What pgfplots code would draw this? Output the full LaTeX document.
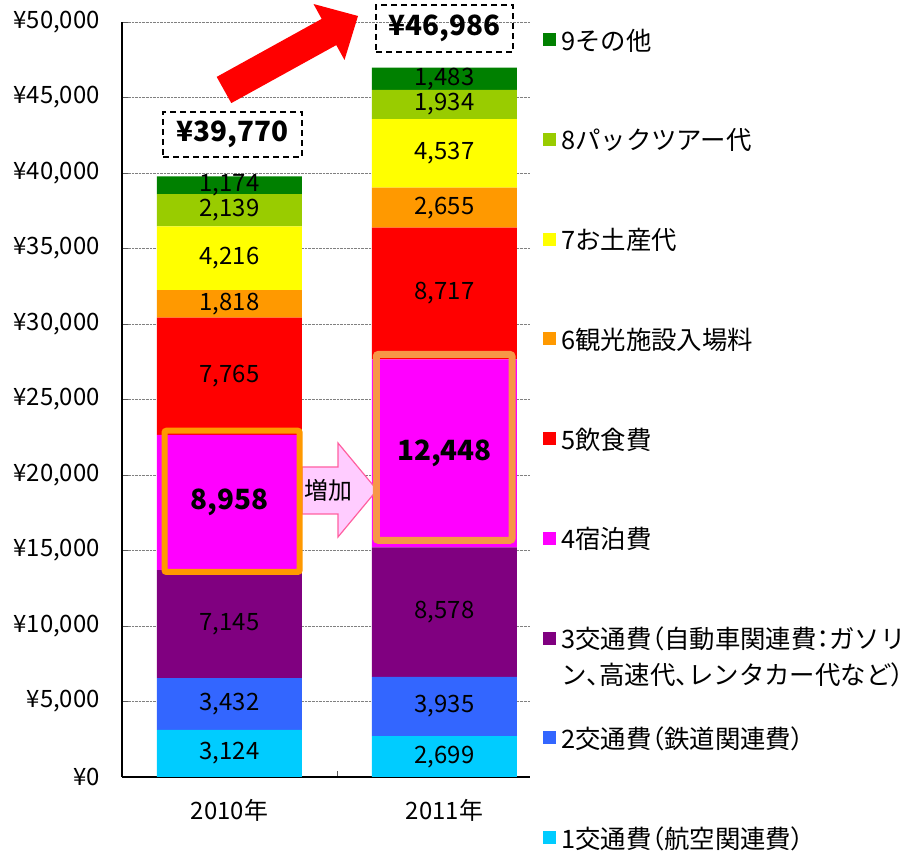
\documentclass[border=0pt]{standalone}
\usepackage{fontspec}
\setmainfont{Noto Sans CJK JP}
\newfontfamily\pf{Noto Sans CJK JP}[RawFeature=+palt]
\usepackage{pgfplots}
\pgfplotsset{compat=1.18}
\usepackage{pgfplotstable}

\definecolor{c1}{HTML}{00CCFF}
\definecolor{c2}{HTML}{3366FF}
\definecolor{c3}{HTML}{800080}
\definecolor{c4}{HTML}{FF00FF}
\definecolor{c5}{HTML}{FF0000}
\definecolor{c6}{HTML}{FF9900}
\definecolor{c7}{HTML}{FFFF00}
\definecolor{c8}{HTML}{99CC00}
\definecolor{c9}{HTML}{008000}
\definecolor{hlone}{HTML}{FF9900}
\definecolor{hltwo}{HTML}{F79646}
\definecolor{pinkfill}{HTML}{FFCCFF}
\definecolor{pinkline}{HTML}{FF5FA0}

% spending per person, by item (yen)
\pgfplotstableread{
x a b c d e f g h i
0 3124 3432 7145 8958 7765 1818 4216 2139 1174
1 2699 3935 8578 12448 8717 2655 4537 1934 1483
}\spend

\newcommand\fs[1]{\fontsize{#1}{#1}\selectfont}

\begin{document}
\begin{tikzpicture}
\path[use as bounding box] (-122bp,-76bp) rectangle (785bp,777bp);
\begin{axis}[
  scale only axis, width=408bp, height=755bp,
  ybar stacked, bar width=145bp,
  xmin=-0.5, xmax=1.398, ymin=0, ymax=50000,
  enlargelimits=false,
  axis x line=bottom, axis y line=left,
  axis line style={-, black, line width=1.4bp},
  xtick={0.5}, xticklabels={},
  extra x ticks={0,1}, extra x tick labels={2010年,2011年},
  extra x tick style={major tick length=0pt, grid=none},
  ytick={0,5000,...,50000},
  yticklabel={¥\pgfmathprintnumber{\tick}},
  scaled y ticks=false,
  ymajorgrids, major grid style={densely dotted, gray, line width=0.8bp},
  tick align=inside, major tick length=6bp,
  tick style={gray!70!black, line width=0.9bp},
  yticklabel style={font=\fs{24}, anchor=east, inner sep=0pt, xshift=-22bp},
  xticklabel style={font=\fs{24}, anchor=base, inner sep=0pt, yshift=-42bp},
  /pgf/number format/assume math mode=true,
  /pgf/number format/fixed,
  /pgf/number format/1000 sep={,},
  point meta=explicit,
  nodes near coords,
  every node near coord/.append style={font=\fs{24}, anchor=center,
    inner sep=0pt, text=black},
  legend image code/.code={\fill[#1] (0bp,4bp) rectangle (13bp,17bp); \path (18bp,0bp);},
  reverse legend,
  legend style={at={(1.032,0.9868)}, anchor=north west, draw=none, fill=none,
    inner sep=0pt, row sep=74.75bp, font=\fontsize{25.5}{36}\selectfont,
    nodes={inner sep=0pt, text height=18bp, text depth=7bp, anchor=base west}},
]
\addplot[fill=c1, draw=none] table[x=x, y=a, meta=a]{\spend};
\addlegendentry{1交通費{\pf （}航空関連費{\pf ）}}
\addplot[fill=c2, draw=none] table[x=x, y=b, meta=b]{\spend};
\addlegendentry{2交通費{\pf （}鉄道関連費{\pf ）}}
\addplot[fill=c3, draw=none] table[x=x, y=c, meta=c]{\spend};
\addlegendentry{\vtop{\hbox{3交通費{\pf （}自動車関連費{\pf ：}ガソリ}\hbox{ン{\pf 、}高速代{\pf 、}レンタカー代など{\pf ）}}}}
\addplot[fill=c4, draw=none,
  every node near coord/.append style={font=\bfseries\fs{28}}]
  table[x=x, y=d, meta=d]{\spend};
\addlegendentry{4宿泊費}
\addplot[fill=c5, draw=none] table[x=x, y=e, meta=e]{\spend};
\addlegendentry{5飲食費}
\addplot[fill=c6, draw=none] table[x=x, y=f, meta=f]{\spend};
\addlegendentry{6観光施設入場料}
\addplot[fill=c7, draw=none] table[x=x, y=g, meta=g]{\spend};
\addlegendentry{7お土産代}
\addplot[fill=c8, draw=none] table[x=x, y=h, meta=h]{\spend};
\addlegendentry{8パックツアー代}
\addplot[fill=c9, draw=none] table[x=x, y=i, meta=i]{\spend};
\addlegendentry{9その他}
\end{axis}

% annotations
\fill[red] (94.7bp,700.1bp) -- (199.7bp,758.1bp) -- (191.5bp,773bp) -- (236bp,761bp)
  -- (222.5bp,717bp) -- (214.3bp,731.9bp) -- (109.3bp,673.9bp) -- cycle;
\node[draw, dash pattern=on 6bp off 4bp, line width=1.5bp, minimum width=139bp,
  minimum height=45bp, inner sep=0pt, font=\bfseries\fs{28}] at (110.5bp,642.5bp) {¥39,770};
\node[draw, dash pattern=on 6bp off 4bp, line width=1.5bp, minimum width=137bp,
  minimum height=47bp, inner sep=0pt, font=\bfseries\fs{28}] at (322.5bp,748.5bp) {¥46,986};
\filldraw[fill=pinkfill, draw=pinkline, line width=1.2bp] (180bp,310bp) -- (216bp,310bp)
  -- (216bp,334bp) -- (255bp,287bp) -- (216bp,240bp) -- (216bp,263bp) -- (180bp,263bp) -- cycle;
\node[font=\fs{24}] at (206bp,287bp) {増加};
\draw[hlone, line width=6bp, rounded corners=2bp] (42.5bp,205bp) rectangle (177.7bp,346.3bp);
\draw[hltwo, line width=7bp, rounded corners=2bp] (254.3bp,236.7bp) rectangle (390bp,422.5bp);
\end{tikzpicture}
\end{document}
